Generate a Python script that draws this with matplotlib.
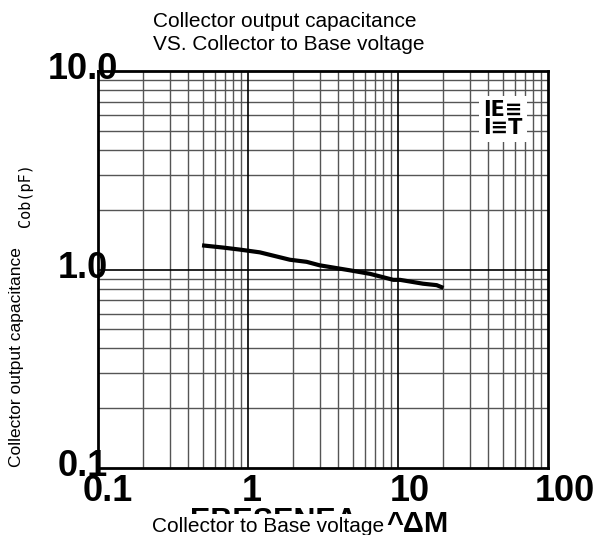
import numpy as np
import matplotlib.pyplot as plt

plt.rcParams['font.family'] = ['Liberation Sans', 'DejaVu Sans']

# ---------------- dados ----------------
vcb = [0.51, 0.68, 0.88, 1.2, 1.9, 2.46, 3.0, 4.8, 6.5, 9.3, 10.3, 14.7, 18.1, 19.5]
cob = [1.32, 1.29, 1.26, 1.22, 1.12, 1.093, 1.05, 0.99, 0.951, 0.887, 0.887, 0.848, 0.834, 0.815]

x_ticks = [0.1, 1, 10, 100]
x_tick_labels = ['0.1', '1', '10', '100']
y_ticks = [0.1, 1, 10]
y_tick_labels = ['0.1', '1.0', '10.0']

W, H = 601, 535
fig = plt.figure(figsize=(W / 100, H / 100), dpi=100)
ax = fig.add_axes([98 / W, 1 - 468 / H, 450 / W, 397 / H])
ax.set_xscale('log')
ax.set_yscale('log')
ax.set_xlim(0.1, 100)
ax.set_ylim(0.1, 10)

# grade manual (linhas em todos os valores 1..9 de cada década)
for dec in [0.1, 1, 10]:
    for k in range(2, 10):
        ax.axvline(dec * k, color='#555555', lw=1.0, zorder=1)
for dec in [0.1, 1]:
    for k in range(2, 10):
        ax.axhline(dec * k, color='#555555', lw=1.0, zorder=1)
for v in [1, 10]:
    ax.axvline(v, color='black', lw=1.2, zorder=1)
ax.axhline(1, color='black', lw=1.2, zorder=1)

for s in ax.spines.values():
    s.set_linewidth(2.0)
    s.set_color('black')
ax.tick_params(which='both', length=0, labelbottom=False, labelleft=False)
ax.minorticks_off()
ax.set_xticks([])
ax.set_yticks([])

ax.plot(vcb, cob, color='black', lw=3.0, zorder=3)

# rótulos dos ticks (grandes, em negrito)
x_off = [9.5, 4, 12, 17]
for v, lab, dx in zip(x_ticks, x_tick_labels, x_off):
    ax.annotate(lab, xy=(v, 0), xycoords=('data', 'axes fraction'),
                xytext=(dx, -33), textcoords='offset pixels',
                ha='center', va='baseline', fontsize=26, fontweight='bold',
                annotation_clip=False)
for v, lab in zip(y_ticks, y_tick_labels):
    ax.annotate(lab, xy=(0, v), xycoords=('axes fraction', 'data'),
                xytext=(-15, -8), textcoords='offset pixels',
                ha='center', va='baseline', fontsize=26, fontweight='bold',
                annotation_clip=False, zorder=5)

# título
fig.text(153 / W, 1 - 27 / H, 'Collector output capacitance', fontsize=15,
         ha='left', va='baseline')
fig.text(153 / W, 1 - 50 / H, 'VS. Collector to Base voltage', fontsize=15,
         ha='left', va='baseline')

# rótulos dos eixos
fig.text(17 / W, 1 - 357 / H, 'Collector output capacitance', fontsize=12.5,
         rotation=90, ha='center', va='center')
fig.text(26 / W, 1 - 195 / H, 'Cob(pF)', fontsize=11, family='DejaVu Sans Mono',
         rotation=90, ha='center', va='center')

# texto corrompido atrás do rótulo do eixo x
fig.text(190 / W, 1 - 530 / H, 'EBESENEA', fontsize=22, fontweight='bold',
         ha='left', va='baseline', zorder=1)
fig.text(386 / W, 1 - 532 / H, '^ΔM', fontsize=21, fontweight='bold',
         ha='left', va='baseline', zorder=1)
fig.text(152 / W, 1 - 532 / H, 'Collector to Base voltage', fontsize=15,
         ha='left', va='baseline', zorder=3,
         bbox=dict(fc='white', ec='none', pad=2))

# logotipo no canto
ax.text(0.9, 0.879, 'IE≡\nI≡T', transform=ax.transAxes, fontsize=15,
        fontweight='bold', ha='center', va='center', linespacing=0.85,
        family='DejaVu Sans', zorder=4,
        bbox=dict(fc='white', ec='none', pad=3))

fig.savefig('out.png', dpi=100)
